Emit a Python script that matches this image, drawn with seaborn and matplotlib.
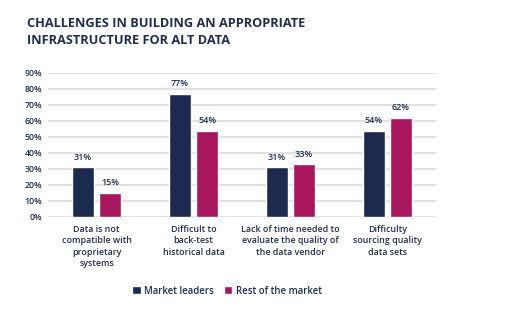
import matplotlib
matplotlib.use("Agg")
import matplotlib.pyplot as plt
import seaborn as sns
import pandas as pd
from matplotlib.patches import Patch

categories = ["Data is not\ncompatible with\nproprietary\nsystems",
              "Difficult to\nback-test\nhistorical data",
              "Lack of time needed to\nevaluate the quality of\nthe data vendor",
              "Difficulty\nsourcing quality\ndata sets"]
series = ["Market leaders", "Rest of the market"]
leaders = [31, 77, 31, 54]
rest = [15, 54, 33, 62]
yticks = [0, 10, 20, 30, 40, 50, 60, 70, 80, 90]

navy = "#1b2a4e"
magenta = "#a8175e"
text_col = "#1f2d4f"

sns.set_theme(style="white")
plt.rcParams['font.family'] = ['Open Sans', 'DejaVu Sans']

df = pd.DataFrame({
    "category": categories * 2,
    "series": [series[0]] * 4 + [series[1]] * 4,
    "value": leaders + rest,
})

fig = plt.figure(figsize=(5.09, 3.24), dpi=100)
ax = fig.add_axes([48/509, 1-217/324, (436-48)/509, (217-73)/324])

sns.barplot(data=df, x="category", y="value", hue="series", order=categories,
            hue_order=series, palette=[navy, magenta], width=0.56, gap=0.18,
            ax=ax, legend=False, saturation=1, zorder=3)

for cont in ax.containers:
    ax.bar_label(cont, labels=[f"{int(round(v.get_height()))}%" for v in cont],
                 padding=4, fontsize=6.5, fontweight='semibold', color=text_col)

ax.set_ylim(0, 90)
ax.set_xlim(-0.5, 3.5)
ax.set_yticks(yticks)
ax.set_yticklabels([f"{t}%" for t in yticks], fontsize=6.3, fontweight='semibold', color=text_col)
ax.yaxis.grid(True, color="#dedede", linewidth=1.3, zorder=0)
ax.set_axisbelow(True)
ax.tick_params(axis='y', length=0, pad=4)
ax.tick_params(axis='x', length=0, pad=6)
ax.set_xticks(range(4))
ax.set_xticklabels(categories, fontsize=6.4, fontweight='semibold', color=text_col, linespacing=1.3)
ax.set_xlabel("")
ax.set_ylabel("")
for s in ax.spines.values():
    s.set_visible(False)

fig.text(27/509, 1-17/324, "CHALLENGES IN BUILDING AN APPROPRIATE\nINFRASTRUCTURE FOR ALT DATA",
         ha='left', va='top', fontsize=9.2, fontweight='bold', color=text_col, linespacing=1.45)

handles = [Patch(facecolor=navy), Patch(facecolor=magenta)]
fig.legend(handles, series, loc='center', bbox_to_anchor=(227/509, 1-291/324), ncol=2,
           frameon=False, handlelength=0.85, handleheight=0.85,
           handletextpad=0.4, columnspacing=1.0, labelcolor=text_col,
           prop={'weight': 'semibold', 'size': 6.9})

fig.savefig("out.png", dpi=100)
